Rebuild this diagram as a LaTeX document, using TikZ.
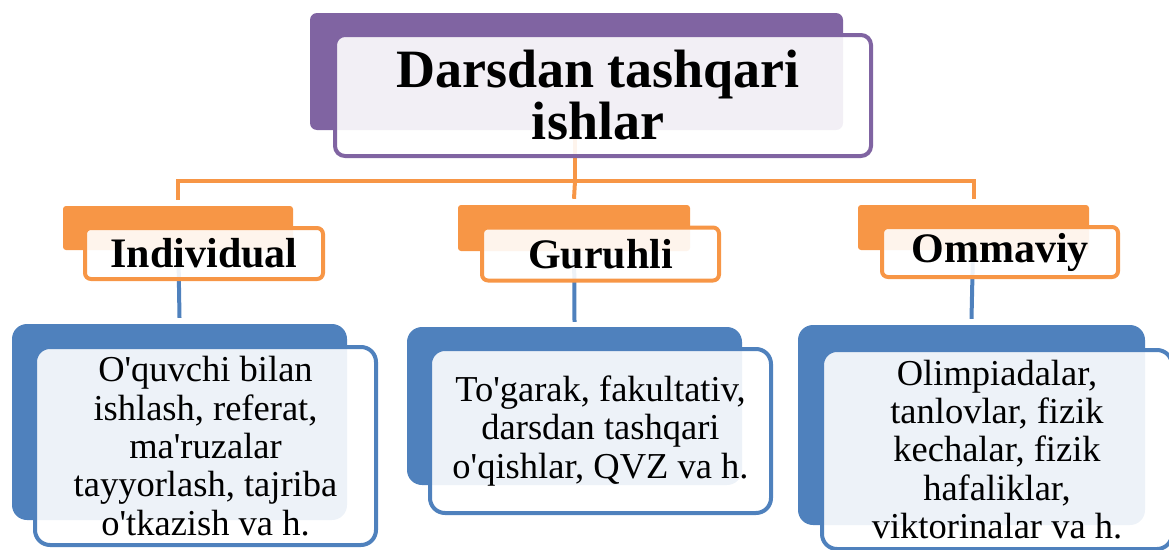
\documentclass[tikz,border=0pt]{standalone}
\usepackage{fontspec}
\setmainfont{Liberation Serif}
\usetikzlibrary{backgrounds,calc}
\definecolor{cpurple}{HTML}{8064A2}
\definecolor{corange}{HTML}{F79646}
\definecolor{cblue}{HTML}{4F81BD}
\newcommand{\ap}{\textquotesingle}
\begin{document}
\begin{tikzpicture}[x=1pt,y=-1pt,
  backbox/.style={rectangle, inner sep=0pt, draw=none},
  frontbox/.style={rectangle, inner sep=0pt, fill=white, fill opacity=0.9, text opacity=1, line width=4pt, align=center},
  titlefont/.style={font=\fontsize{54}{52}\selectfont\bfseries},
  midfont/.style={font=\fontsize{42}{46}\selectfont\bfseries},
  leaffont/.style={font=\fontsize{36.5}{38.3}\selectfont},
  oconn/.style={draw=corange, line width=4pt},
  bconn/.style={draw=cblue, line width=4pt}]
\useasboundingbox (0,0) rectangle (1169,549);

% top
\node[backbox, fill=cpurple, rounded corners=7pt, minimum width=533pt, minimum height=117pt] (topb) at (576.5,71.5) {};
\node[frontbox, draw=cpurple, rounded corners=10pt, minimum width=536pt, minimum height=121pt, titlefont] (topf) at (603,95.5) {\hspace*{-10pt}Darsdan tashqari\\\hspace*{-10pt}ishlar};

% middle level
\node[backbox, fill=corange, rounded corners=3pt, minimum width=230pt, minimum height=44pt] (indb) at (178,228) {};
\node[frontbox, draw=corange, rounded corners=6pt, minimum width=238pt, minimum height=51pt, midfont] (indf) at (204,253.5) {Individual};
\node[backbox, fill=corange, rounded corners=3pt, minimum width=232pt, minimum height=46pt] (gurb) at (574,228) {};
\node[frontbox, draw=corange, rounded corners=6pt, minimum width=237pt, minimum height=53pt, midfont] (gurf) at (600.5,254) {Guruhli};
\node[backbox, fill=corange, rounded corners=3pt, minimum width=231pt, minimum height=45pt] (omb) at (973.5,227.5) {};
\node[frontbox, draw=corange, rounded corners=6pt, minimum width=236pt, minimum height=50pt, midfont] (omf) at (1000,252) {Ommaviy};

% leaves
\node[backbox, fill=cblue, rounded corners=15pt, minimum width=335pt, minimum height=196pt] (b1b) at (179.5,422) {};
\node[frontbox, draw=cblue, rounded corners=15pt, minimum width=341pt, minimum height=198pt, leaffont] (b1f) at (205.5,446) {O\ap quvchi bilan\\ishlash, referat,\\ma\ap ruzalar\\tayyorlash, tajriba\\o\ap tkazish va h.};
\node[backbox, fill=cblue, rounded corners=15pt, minimum width=335pt, minimum height=158pt] (b2b) at (574.5,406) {};
\node[frontbox, draw=cblue, rounded corners=15pt, minimum width=341pt, minimum height=164pt, leaffont] (b2f) at (600.5,431) {To\ap garak, fakultativ,\\darsdan tashqari\\o\ap qishlar, QVZ va h.};
\node[backbox, fill=cblue, rounded corners=15pt, minimum width=347pt, minimum height=200pt] (b3b) at (971.5,425) {};
\node[frontbox, draw=cblue, rounded corners=15pt, minimum width=350pt, minimum height=199pt, leaffont] (b3f) at (997,449.5) {Olimpiadalar,\\tanlovlar, fizik\\kechalar, fizik\\hafaliklar,\\viktorinalar va h.};

\coordinate (bar) at (575,181);
\begin{scope}[on background layer]
  \draw[oconn] (topb.center -| bar) -- (bar);
  \draw[oconn] ([yshift=6pt]indb.north) |- (bar) -| ([yshift=6pt]omb.north);
  \draw[oconn] (bar) -- ([yshift=6pt]gurb.north);
  \draw[bconn] (indb.center) -- ([yshift=6pt]b1b.north);
  \draw[bconn] (gurb.center) -- ([yshift=5pt]b2b.north);
  \draw[bconn] (omb.center) -- ([yshift=6pt]b3b.north);
\end{scope}
\end{tikzpicture}
\end{document}
